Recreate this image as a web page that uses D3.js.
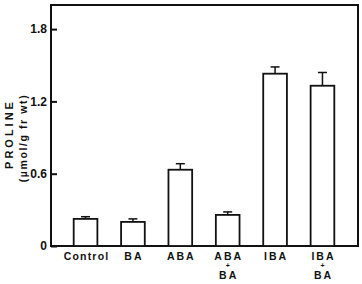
<!DOCTYPE html>
<html>
<head>
<meta charset="utf-8">
<script src="https://cdn.jsdelivr.net/npm/d3@7"></script>
<style>
  body { margin: 0; background: #fff; }
  text { font-family: "Liberation Sans", Arial, sans-serif; font-weight: bold; fill: #111; }
</style>
</head>
<body>
<div id="chart"></div>
<script>
const categories = ['Control', 'BA', 'ABA', 'ABA+BA', 'IBA', 'IBA+BA']
const labelLines = [['Control'], ['BA'], ['ABA'], ['ABA', '+', 'BA'], ['IBA'], ['IBA', '+', 'BA']]
const proline = [0.225, 0.2, 0.633, 0.258, 1.43, 1.33]
const errors = [0.018, 0.025, 0.05, 0.025, 0.056, 0.11]
const yTicks = [0, 0.6, 1.2, 1.8]
const yTickLabels = ['0', '0.6', '1.2', '1.8']

const canvasWidth = 362
const canvasHeight = 284
const margins = {top: 5, right: 4, bottom: 38, left: 51}
const width = canvasWidth - margins.left - margins.right
const height = canvasHeight - margins.top - margins.bottom

const svg = d3
  .select('#chart')
  .append('svg')
  .attr('width', canvasWidth)
  .attr('height', canvasHeight)
  .append('g')
  .attr('transform', `translate(${margins.left}, ${margins.top})`)

const xScale = d3
  .scaleBand()
  .domain(categories)
  .range([-1, width])
  .padding(0.5)

const yScale = d3
  .scaleLinear()
  .domain([0, 2.0])
  .range([height, 0])

// frame
svg
  .append('rect')
  .attr('x', 0)
  .attr('y', 0)
  .attr('width', width)
  .attr('height', height)
  .attr('fill', 'none')
  .attr('stroke', '#111')
  .attr('stroke-width', 2)

// y ticks, pointing inward
const yAxis = d3
  .axisLeft(yScale)
  .tickValues(yTicks)
  .tickSize(-6)
  .tickPadding(4)
  .tickFormat((d, i) => yTickLabels[i])

const yG = svg.append('g').call(yAxis)
yG.select('.domain').remove()
yG.selectAll('line').attr('stroke', '#111').attr('stroke-width', 2)
yG.selectAll('text')
  .attr('font-size', 12)
  .style('font-family', '"Liberation Sans", Arial, sans-serif')
  .style('font-weight', 'bold')
  .attr('fill', '#111')

// y label
svg
  .append('text')
  .attr('transform', `translate(${9 - margins.left}, ${134 - margins.top}) rotate(-90)`)
  .attr('text-anchor', 'middle')
  .attr('dominant-baseline', 'central')
  .attr('font-size', 11)
  .attr('letter-spacing', 3)
  .text('PROLINE')

svg
  .append('text')
  .attr('transform', `translate(${23 - margins.left}, ${138 - margins.top}) rotate(-90)`)
  .attr('text-anchor', 'middle')
  .attr('dominant-baseline', 'central')
  .attr('font-size', 10.5)
  .attr('letter-spacing', 1.6)
  .text('(µmol/g fr wt)')

// bars
const bars = svg
  .selectAll('g.bar')
  .data(categories)
  .enter()
  .append('g')
  .attr('class', 'bar')

bars
  .append('rect')
  .attr('x', d => xScale(d))
  .attr('y', (d, i) => yScale(proline[i]))
  .attr('width', xScale.bandwidth())
  .attr('height', (d, i) => yScale(0) - yScale(proline[i]))
  .attr('fill', '#fff')
  .attr('stroke', '#111')
  .attr('stroke-width', 1.8)

// error bars
bars
  .append('line')
  .attr('x1', d => xScale(d) + xScale.bandwidth() / 2)
  .attr('x2', d => xScale(d) + xScale.bandwidth() / 2)
  .attr('y1', (d, i) => yScale(proline[i]))
  .attr('y2', (d, i) => yScale(proline[i] + errors[i]))
  .attr('stroke', '#111')
  .attr('stroke-width', 1.5)

bars
  .append('line')
  .attr('x1', d => xScale(d) + xScale.bandwidth() / 2 - 4.5)
  .attr('x2', d => xScale(d) + xScale.bandwidth() / 2 + 4.5)
  .attr('y1', (d, i) => yScale(proline[i] + errors[i]))
  .attr('y2', (d, i) => yScale(proline[i] + errors[i]))
  .attr('stroke', '#111')
  .attr('stroke-width', 1.5)

// category labels
const lineY = [14, 21.5, 32.5]
bars.each(function(d, i) {
  const g = d3.select(this)
  labelLines[i].forEach((t, j) => {
    const plus = t === '+'
    g.append('text')
      .attr('x', xScale(d) + xScale.bandwidth() / 2 + (plus ? 0 : 1))
      .attr('y', height + lineY[j])
      .attr('text-anchor', 'middle')
      .attr('font-size', plus ? 7 : 10.5)
      .attr('letter-spacing', plus ? 0 : (t === 'Control' ? 1.2 : 2))
      .text(t)
  })
})
</script>
</body>
</html>
